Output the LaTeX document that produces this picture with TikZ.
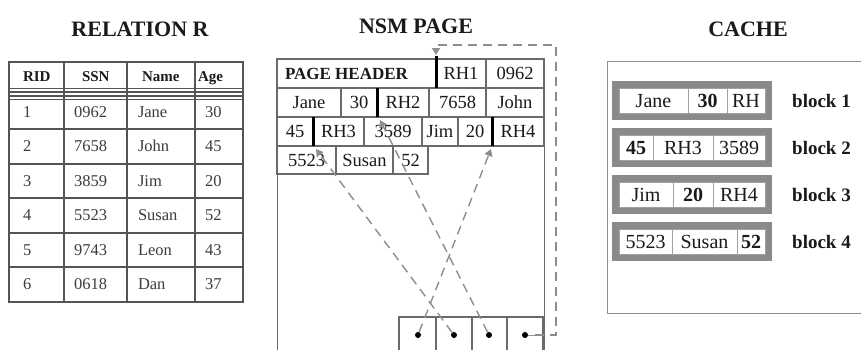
\documentclass[tikz,border=0pt]{standalone}
\usepackage{fontspec}
\setmainfont{Liberation Serif}
\usetikzlibrary{arrows.meta}
\definecolor{txt}{HTML}{1A1A1A}
\definecolor{tline}{HTML}{555555}
\definecolor{pline}{HTML}{6A6A6A}
\definecolor{arr}{HTML}{8E8E8E}
\definecolor{blkfill}{HTML}{8A8A8A}
\definecolor{cline}{HTML}{A0A0A0}
\newcommand\fsz[1]{\fontsize{#1}{#1}\selectfont}
% centered cell: [opt]{name}{x1}{y1}{x2}{y2}{text}
\newcommand\mkcell[7][]{%
  \node[cellbase,#1,minimum width={(#5-#3)*1pt},minimum height={(#6-#4)*1pt}] (#2) at ({(#3+#5)/2},{(#4+#6)/2}) {#7};}
% left-aligned cell: [opt]{name}{x1}{y1}{x2}{y2}{pad}{text}
\newcommand\lcell[8][]{%
  \node[cellbase,#1,minimum width={(#5-#3)*1pt},minimum height={(#6-#4)*1pt}] (#2) at ({(#3+#5)/2},{(#4+#6)/2}) {};
  \node[cellbase,#1,draw=none,fill=none,anchor=west,minimum width=0pt,minimum height=0pt] (#2t) at ({#3+#7},{(#4+#6)/2}) {#8};}
\tikzset{
  cellbase/.style={rectangle,inner sep=0pt,outer sep=0pt,text=txt,text depth=0pt},
  rtab/.style={draw=tline,line width=1.1pt,font=\fsz{16.5},text=txt!85!white,text height=10.9pt},
  rhead/.style={draw=tline,line width=1.1pt,font=\fsz{15}\bfseries,text height=9.9pt},
  nsm/.style={draw=pline,line width=1.1pt,font=\fsz{18.5},text height=12.2pt},
  bar/.style={line width=3pt,black},
  ptr/.style={draw=arr,line width=1.4pt,dash pattern=on 9pt off 6pt,-{Triangle[width=8pt,length=7pt,fill=arr]}},
  dot/.style={circle,fill=black,inner sep=0pt,minimum size=6pt},
  slot/.style={draw=pline,line width=1.1pt},
  frame/.style={fill=blkfill,draw=none},
  ccell/.style={fill=white,draw=cline,line width=1pt,font=\fsz{20},text height=13.2pt},
  blklabel/.style={font=\fsz{19}\bfseries,text=txt,anchor=west,inner sep=0pt},
  title/.style={font=\fsz{22}\bfseries,text=txt,inner sep=0pt}
}
\begin{document}
\begin{tikzpicture}[x=1pt,y=-1pt]
\useasboundingbox[fill=white] (0,0) rectangle (861,349);
\clip (0,0) rectangle (861,349);

% titles
\node[title] (ttlr) at (140,29) {RELATION R};
\node[title] (ttln) at (416,26) {NSM PAGE};
\node[title] (ttlc) at (748,29) {CACHE};

% ---------- RELATION R ----------
\lcell[rhead]{h1}{9}{62}{64}{92}{14}{RID}
\lcell[rhead]{h2}{64}{62}{127}{92}{18}{SSN}
\lcell[rhead]{h3}{127}{62}{195}{92}{15}{Name}
\lcell[rhead]{h4}{195}{62}{243}{92}{3}{Age}
\mkcell[rtab]{g1}{9}{92}{64}{96}{}
\mkcell[rtab]{g2}{64}{92}{127}{96}{}
\mkcell[rtab]{g3}{127}{92}{195}{96}{}
\mkcell[rtab]{g4}{195}{92}{243}{96}{}
\foreach \i/\a/\b/\c/\d/\ya/\yb in {1/1/0962/Jane/30/96/129, 2/2/7658/John/45/129/164,
  3/3/3859/Jim/20/164/198, 4/4/5523/Susan/52/198/233, 5/5/9743/Leon/43/233/267, 6/6/0618/Dan/37/267/302}{
  \lcell[rtab]{r\i-1}{9}{\ya}{64}{\yb}{14}{\a}
  \lcell[rtab]{r\i-2}{64}{\ya}{127}{\yb}{10}{\b}
  \lcell[rtab]{r\i-3}{127}{\ya}{195}{\yb}{11}{\c}
  \lcell[rtab]{r\i-4}{195}{\ya}{243}{\yb}{10}{\d}
}
\draw[draw=tline,line width=1.6pt] (h1.north west) rectangle (r6-4.south east);

% ---------- NSM PAGE ----------
\node[draw=pline,line width=1.1pt,anchor=north west,minimum width=267pt,minimum height=310pt,inner sep=0pt] (page) at (277,59) {};
\lcell[nsm]{phd}{277}{59}{436}{88}{8}{\fsz{17}\bfseries PAGE HEADER}
\mkcell[nsm]{rh1}{436}{59}{486}{88}{RH1}
\mkcell[nsm]{n0962}{486}{59}{544}{88}{0962}
\mkcell[nsm]{njane}{277}{88}{341}{117}{Jane}
\mkcell[nsm]{n30}{341}{88}{377}{117}{30}
\mkcell[nsm]{rh2}{377}{88}{429}{117}{RH2}
\mkcell[nsm]{n7658}{429}{88}{486}{117}{7658}
\mkcell[nsm]{njohn}{486}{88}{544}{117}{John}
\mkcell[nsm]{n45}{277}{117}{313}{146}{45}
\mkcell[nsm]{rh3}{313}{117}{364}{146}{RH3}
\mkcell[nsm]{n3589}{364}{117}{422}{146}{3589}
\mkcell[nsm]{njim}{422}{117}{458}{146}{Jim}
\mkcell[nsm]{n20}{458}{117}{492}{146}{20}
\mkcell[nsm]{rh4}{492}{117}{544}{146}{RH4}
\mkcell[nsm]{n5523}{277}{146}{336}{174}{5523}
\mkcell[nsm]{nsusan}{336}{146}{393}{174}{Susan}
\mkcell[nsm]{n52}{393}{146}{428}{174}{52}

\mkcell[slot]{s1}{399}{317}{436}{360}{}
\mkcell[slot]{s2}{436}{317}{472}{360}{}
\mkcell[slot]{s3}{472}{317}{507}{360}{}
\mkcell[slot]{s4}{507}{317}{543}{360}{}
\node[dot] (d1) at (418,335) {};
\node[dot] (d2) at (454,335) {};
\node[dot] (d3) at (489,335) {};
\node[dot] (d4) at (525,335) {};

\draw[bar] ([yshift=3pt]rh1.north west) -- (rh1.south west);
\draw[bar] (rh2.north west) -- (rh2.south west);
\draw[bar] (rh3.north west) -- (rh3.south west);
\draw[bar] (rh4.north west) -- (rh4.south west);

\coordinate (t1) at (436,55);
\coordinate (t2) at (380,120);
\coordinate (t3) at (316,149);
\coordinate (t4) at (491,149);
\coordinate (e1) at (535,335);
\coordinate (e2) at (556,335);
\coordinate (e3) at (556,45);
\coordinate (e4) at (436,45);
\draw[ptr] (d1) -- (t4);
\draw[ptr] (d2) -- (t3);
\draw[ptr] (d3) -- (t2);
\draw[line width=1pt,arr] (d4) -- (e1);
\draw[ptr] (e1) -- (e2) -- (e3) -- (e4) -- (t1);

% ---------- CACHE ----------
\node[draw=arr,line width=1.3pt,anchor=north west,minimum width=270pt,minimum height=252pt,inner sep=0pt] (cache) at (607,61) {};
\mkcell[frame]{f1}{612}{81}{772}{120}{}
\mkcell[frame]{f2}{612}{128}{772}{167}{}
\mkcell[frame]{f3}{612}{175}{772}{214}{}
\mkcell[frame]{f4}{612}{222}{772}{261}{}
\mkcell[ccell]{c11}{619}{88}{688}{113}{Jane}
\mkcell[ccell]{c12}{688}{88}{727}{113}{\textbf{30}}
\mkcell[ccell]{c13}{727}{88}{765}{113}{RH}
\mkcell[ccell]{c21}{619}{135}{653}{160}{\textbf{45}}
\mkcell[ccell]{c22}{653}{135}{713}{160}{RH3}
\mkcell[ccell]{c23}{713}{135}{765}{160}{3589}
\mkcell[ccell]{c31}{619}{182}{673}{207}{Jim}
\mkcell[ccell]{c32}{673}{182}{713}{207}{\textbf{20}}
\mkcell[ccell]{c33}{713}{182}{765}{207}{RH4}
\mkcell[ccell]{c41}{619}{229}{672}{254}{5523}
\mkcell[ccell]{c42}{672}{229}{737}{254}{Susan}
\mkcell[ccell]{c43}{737}{229}{765}{254}{\textbf{52}}
\node[blklabel] (l1) at (792,100.5) {block 1};
\node[blklabel] (l2) at (792,147.5) {block 2};
\node[blklabel] (l3) at (792,194.5) {block 3};
\node[blklabel] (l4) at (792,241.5) {block 4};
\end{tikzpicture}
\end{document}
